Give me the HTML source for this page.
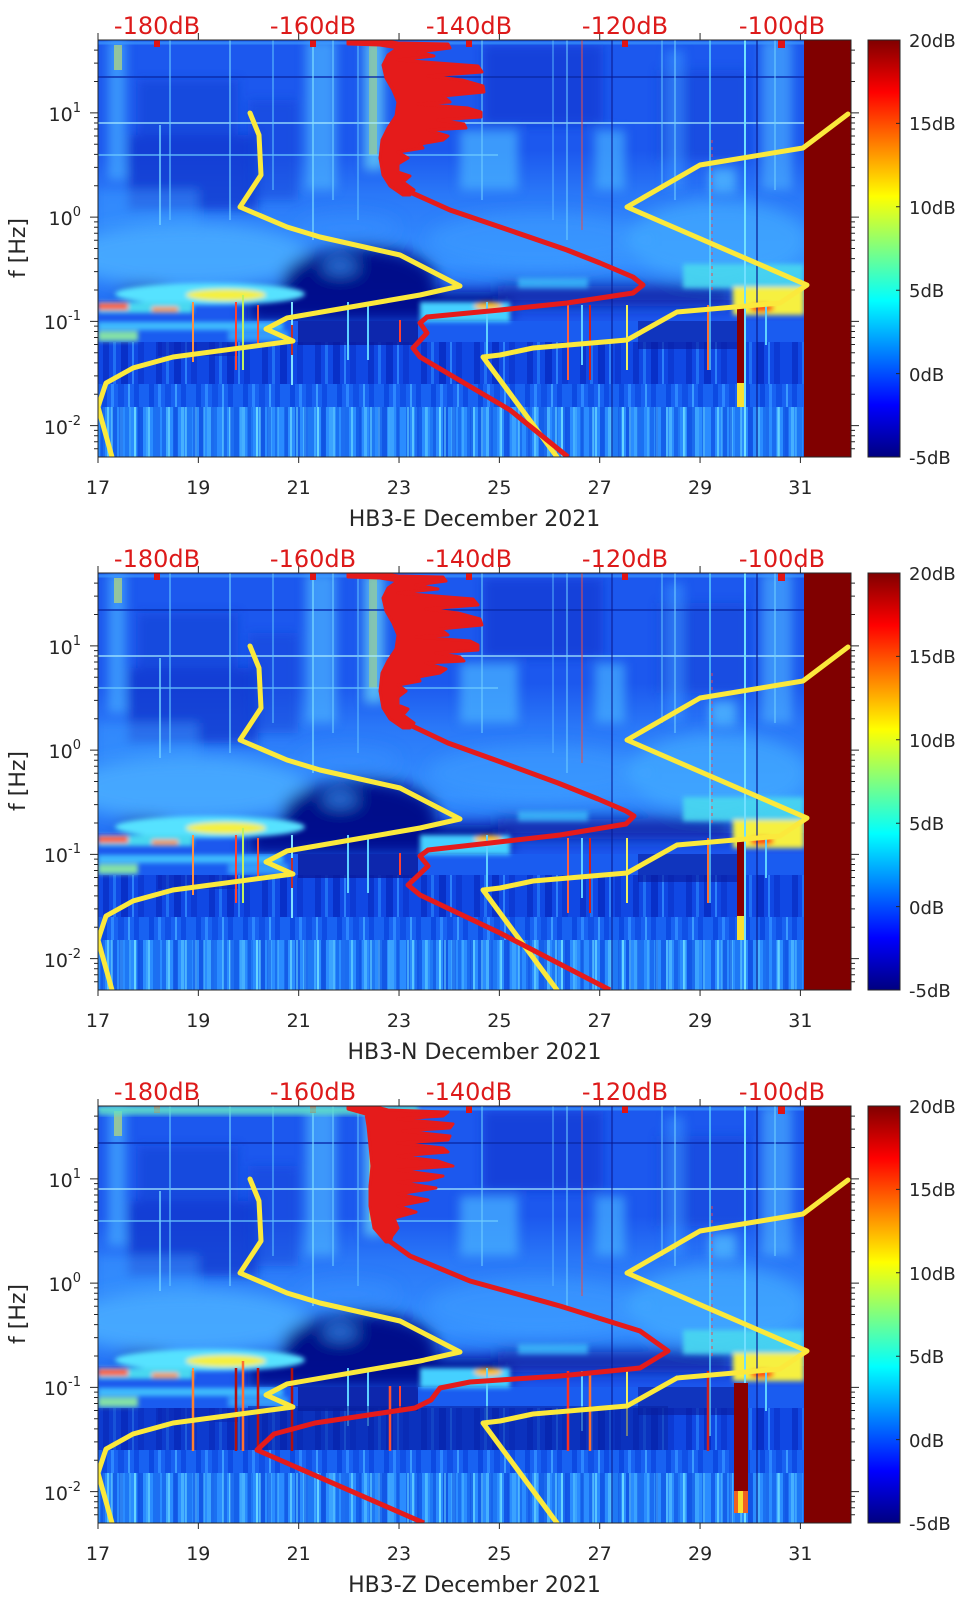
<!DOCTYPE html>
<html><head><meta charset="utf-8"><style>
html,body{margin:0;padding:0;background:#fff;}
svg{display:block;}
text{font-family:"DejaVu Sans","Liberation Sans",sans-serif;}
</style></head><body>
<svg width="962" height="1599" viewBox="0 0 962 1599" xmlns="http://www.w3.org/2000/svg" xmlns:xlink="http://www.w3.org/1999/xlink">
<defs>
<filter id="b3" x="-20%" y="-20%" width="140%" height="140%"><feGaussianBlur stdDeviation="2.5"/></filter>
<filter id="b5" x="-20%" y="-20%" width="140%" height="140%"><feGaussianBlur stdDeviation="5"/></filter>
<filter id="b8" x="-20%" y="-20%" width="140%" height="140%"><feGaussianBlur stdDeviation="8"/></filter>
<clipPath id="clip"><rect width="753" height="417"/></clipPath>
<linearGradient id="jet" x1="0" y1="0" x2="0" y2="1">
 <stop offset="0" stop-color="#800000"/>
 <stop offset="0.125" stop-color="#ff0000"/>
 <stop offset="0.375" stop-color="#ffff00"/>
 <stop offset="0.625" stop-color="#00ffff"/>
 <stop offset="0.875" stop-color="#0000ff"/>
 <stop offset="1" stop-color="#000080"/>
</linearGradient>
<linearGradient id="haze" gradientUnits="userSpaceOnUse" x1="0" y1="110" x2="0" y2="260">
 <stop offset="0" stop-color="#1c58ee"/>
 <stop offset="0.3" stop-color="#2a78f8"/>
 <stop offset="0.75" stop-color="#3590ff"/>
 <stop offset="1" stop-color="#2470f4"/>
</linearGradient>
<pattern id="pA" width="61" height="60" patternUnits="userSpaceOnUse">
 <rect width="61" height="60" fill="#2a8cff"/>
 <rect x="3" width="4" height="60" fill="#1a6cf0"/>
 <rect x="9" width="2" height="60" fill="#58c4ff"/>
 <rect x="14" width="5" height="60" fill="#1460ea"/>
 <rect x="22" width="3" height="60" fill="#46b0ff"/>
 <rect x="27" width="6" height="60" fill="#1e78f4"/>
 <rect x="36" width="2" height="60" fill="#66d4ff"/>
 <rect x="40" width="5" height="60" fill="#1258e6"/>
 <rect x="48" width="4" height="60" fill="#3aa2ff"/>
 <rect x="55" width="3" height="60" fill="#1a70f2"/>
</pattern>
<pattern id="pA2" width="37" height="60" patternUnits="userSpaceOnUse">
 <rect x="2" width="3" height="60" fill="#0e50e0" opacity=".55"/>
 <rect x="13" width="2" height="60" fill="#70e0ff" opacity=".5"/>
 <rect x="21" width="4" height="60" fill="#1050e4" opacity=".5"/>
 <rect x="31" width="2" height="60" fill="#50c0ff" opacity=".5"/>
</pattern>
<pattern id="pB" width="47" height="30" patternUnits="userSpaceOnUse">
 <rect width="47" height="30" fill="#1862f2"/>
 <rect x="4" width="5" height="30" fill="#0c4ae2"/>
 <rect x="13" width="3" height="30" fill="#2c86ff"/>
 <rect x="20" width="6" height="30" fill="#1050e6"/>
 <rect x="30" width="2" height="30" fill="#3a9aff"/>
 <rect x="36" width="5" height="30" fill="#0e4ce4"/>
</pattern>
<pattern id="pC" width="53" height="50" patternUnits="userSpaceOnUse">
 <rect width="53" height="50" fill="#1048e4"/>
 <rect x="5" width="6" height="50" fill="#0a34cc"/>
 <rect x="15" width="3" height="50" fill="#2070f4"/>
 <rect x="23" width="7" height="50" fill="#0830c8"/>
 <rect x="34" width="2" height="50" fill="#2c80fa"/>
 <rect x="40" width="6" height="50" fill="#0c3ad4"/>
</pattern>

<g id="spec">
 <rect width="706" height="417" fill="#1c58ee"/>
 <rect y="110" width="706" height="150" fill="url(#haze)"/>
 <g filter="url(#b5)">
  <rect x="30" y="95" width="130" height="75" fill="#1234cc" opacity=".75"/>
  <rect x="40" y="40" width="100" height="55" fill="#1640d4" opacity=".6"/>
  <rect x="385" y="5" width="120" height="80" fill="#1236d0" opacity=".65"/>
  <rect x="560" y="30" width="90" height="90" fill="#1640d6" opacity=".5"/>
  <rect x="150" y="60" width="50" height="100" fill="#1640d8" opacity=".5"/>
  <rect x="10" y="0" width="18" height="140" fill="#44a8ff" opacity=".75"/>
  <rect x="208" y="0" width="30" height="150" fill="#4cb4ff" opacity=".7"/>
  <rect x="266" y="0" width="20" height="130" fill="#60c8f8" opacity=".8"/>
  <rect x="362" y="90" width="58" height="60" fill="#46b0ff" opacity=".75"/>
  <rect x="497" y="90" width="30" height="60" fill="#46b0ff" opacity=".7"/>
  <rect x="568" y="10" width="18" height="140" fill="#3c98ff" opacity=".55"/>
  <rect x="664" y="0" width="30" height="150" fill="#4cb0ff" opacity=".65"/>
  <rect x="612" y="128" width="26" height="25" fill="#50b8ff" opacity=".8"/>
  <rect x="0" y="150" width="100" height="40" fill="#3a98ff" opacity=".5"/>
 </g>
 <rect x="271" y="5" width="8" height="110" fill="#c0e060" opacity=".45"/>
 <rect x="16" y="5" width="8" height="25" fill="#d0e860" opacity=".6"/>
 <g filter="url(#b8)">
  <ellipse cx="90" cy="215" rx="120" ry="32" fill="#4aaeff" opacity=".8"/>
  <ellipse cx="440" cy="200" rx="110" ry="28" fill="#3c9cff" opacity=".6"/>
  <ellipse cx="620" cy="200" rx="90" ry="40" fill="#44acff" opacity=".7"/>
  <ellipse cx="250" cy="188" rx="50" ry="14" fill="#3a92ff" opacity=".5"/>
  <ellipse cx="262" cy="242" rx="78" ry="36" fill="#000c8a"/>
  <rect x="150" y="252" width="260" height="30" fill="#00108e"/>
  <rect x="400" y="246" width="235" height="20" fill="#0a1c9e" opacity=".9"/>
  <ellipse cx="46" cy="252" rx="26" ry="6" fill="#0a1ca0"/>
  <ellipse cx="242" cy="226" rx="18" ry="8" fill="#3aa0ff" opacity=".7"/>
 </g>
 <rect y="281" width="706" height="21" fill="#1a5cf0"/>
 <rect y="302" width="706" height="42" fill="url(#pC)"/>
 <rect y="344" width="706" height="23" fill="url(#pB)"/>
 <rect y="367" width="706" height="50" fill="url(#pA)"/>
 <rect y="367" width="706" height="50" fill="url(#pA2)"/>
 <rect x="200" y="281" width="120" height="24" fill="#0a1a9c" opacity=".8"/>
 <rect x="540" y="281" width="100" height="28" fill="#0a1a9c" opacity=".6"/>
 <rect x="60" y="302" width="80" height="14" fill="#0a24b4" opacity=".6"/>
 <g filter="url(#b3)">
  <ellipse cx="112" cy="254" rx="95" ry="11" fill="#56e2ff"/>
  <ellipse cx="128" cy="255" rx="40" ry="6" fill="#f4f040"/>
  <rect x="0" y="262" width="95" height="11" fill="#4ad8f0"/>
  <rect x="0" y="263" width="30" height="7" fill="#ff5a20"/>
  <rect x="54" y="267" width="26" height="5" fill="#ff9020"/>
  <rect x="0" y="282" width="185" height="8" fill="#44c8ff" opacity=".9"/>
  <rect x="0" y="291" width="40" height="10" fill="#90f0a0" opacity=".9"/>
  <rect x="130" y="291" width="60" height="10" fill="#40b8ff" opacity=".7"/>
  <rect x="322" y="262" width="90" height="20" fill="#44d0ff"/>
  <ellipse cx="390" cy="266" rx="14" ry="4" fill="#ffc020"/>
  <rect x="585" y="224" width="121" height="24" fill="#48d8f0" opacity=".9"/>
  <rect x="635" y="247" width="71" height="28" fill="#f6f040"/>
  <ellipse cx="664" cy="268" rx="12" ry="4" fill="#ff3a10"/>
  <rect x="420" y="238" width="70" height="10" fill="#40c8ff" opacity=".7"/>
 </g>
 <g stroke-width="1.5" fill="none">
  <line x1="0" y1="83" x2="706" y2="83" stroke="#a8ecff" opacity=".85"/>
  <line x1="0" y1="115" x2="400" y2="115" stroke="#70d0ff" opacity=".8"/>
  <line x1="0" y1="37" x2="706" y2="37" stroke="#0a2aa8" opacity=".7" stroke-width="2"/>
  <line x1="0" y1="3" x2="706" y2="3" stroke="#40a0ff" opacity=".6" stroke-width="3"/>
  <line x1="62" y1="85" x2="62" y2="185" stroke="#70d0ff"/>
  <line x1="72" y1="0" x2="72" y2="180" stroke="#60c0ff" opacity=".8"/>
  <line x1="132" y1="0" x2="132" y2="180" stroke="#70d0ff" opacity=".8"/>
  <line x1="175" y1="0" x2="175" y2="150" stroke="#60c0ff" opacity=".7"/>
  <line x1="215" y1="0" x2="215" y2="200" stroke="#80e0ff" opacity=".8"/>
  <line x1="235" y1="0" x2="235" y2="160" stroke="#70d0ff" opacity=".7"/>
  <line x1="260" y1="0" x2="260" y2="180" stroke="#60c0ff" opacity=".7"/>
  <line x1="384" y1="0" x2="384" y2="160" stroke="#70d0ff" opacity=".7"/>
  <line x1="455" y1="0" x2="455" y2="180" stroke="#60c0ff" opacity=".6"/>
  <line x1="469" y1="0" x2="469" y2="200" stroke="#70d0ff" opacity=".7"/>
  <line x1="484" y1="0" x2="484" y2="190" stroke="#e05050" opacity=".7"/>
  <line x1="514" y1="0" x2="514" y2="417" stroke="#0a1a90" opacity=".7"/>
  <line x1="564" y1="0" x2="564" y2="150" stroke="#60c0ff" opacity=".7"/>
  <line x1="577" y1="0" x2="577" y2="160" stroke="#70d0ff" opacity=".7"/>
  <line x1="612" y1="0" x2="612" y2="330" stroke="#60d8ff" opacity=".9"/>
  <line x1="614" y1="100" x2="614" y2="250" stroke="#ff4040" opacity=".6" stroke-dasharray="3 4"/>
  <line x1="647" y1="0" x2="647" y2="417" stroke="#70e0ff" stroke-width="2"/>
  <line x1="659" y1="0" x2="659" y2="417" stroke="#0a1a90" opacity=".8"/>
  <line x1="677" y1="0" x2="677" y2="150" stroke="#70d0ff" opacity=".7"/>
 </g>
 <g stroke-width="2" fill="none">
  <line x1="95" y1="262" x2="95" y2="322" stroke="#ff9040"/>
  <line x1="138" y1="262" x2="138" y2="330" stroke="#ff4030"/>
  <line x1="145" y1="255" x2="145" y2="330" stroke="#c0f060"/>
  <line x1="160" y1="265" x2="160" y2="305" stroke="#ff5030"/>
  <line x1="194" y1="262" x2="194" y2="345" stroke="#80e0ff"/>
  <line x1="194" y1="285" x2="194" y2="315" stroke="#c03030"/>
  <line x1="250" y1="262" x2="250" y2="320" stroke="#60d0ff"/>
  <line x1="270" y1="262" x2="270" y2="320" stroke="#60d0ff"/>
  <line x1="302" y1="280" x2="302" y2="302" stroke="#ff4030"/>
  <line x1="389" y1="262" x2="389" y2="320" stroke="#60d0ff"/>
  <line x1="470" y1="265" x2="470" y2="340" stroke="#ff6040"/>
  <line x1="484" y1="265" x2="484" y2="325" stroke="#60d0ff"/>
  <line x1="492" y1="265" x2="492" y2="340" stroke="#d02020"/>
  <line x1="529" y1="265" x2="529" y2="330" stroke="#f0f060"/>
  <line x1="610" y1="265" x2="610" y2="330" stroke="#ff7030"/>
  <line x1="668" y1="265" x2="668" y2="305" stroke="#60d0ff"/>
 </g>
 <rect x="706" y="0" width="47" height="417" fill="#800000"/>
 <g fill="#e01414">
  <rect x="56" y="0" width="6" height="7"/>
  <rect x="212" y="0" width="6" height="7"/>
  <rect x="368" y="0" width="6" height="7"/>
  <rect x="524" y="0" width="6" height="7"/>
  <rect x="680" y="0" width="7" height="8"/>
 </g>
</g>

<path id="yel" d="M152,73 L161,95 L163,135 L142,167 L189,187 L222,197 L302,215 L362,246 L322,255 L189,278 L168,289 L195,301 L75,317 L35,328 L8,343 L0,367 L14,417 M459,417 L385,317 L402,315 L435,308 L529,300 L579,272 L682,263 L709,245 L529,167 L602,125 L705,108 L750,74" fill="none" stroke="#fbe93c" stroke-width="5" stroke-linejoin="round" stroke-linecap="round"/>

<g id="ticks" fill="none" stroke="#262626" stroke-width="1">
 <rect x="0" y="0" width="753" height="417"/>
 <path d="M0,72.87h-8M0,177.12h-8M0,281.37h-8M0,385.62h-8M753,72.87h8M753,177.12h8M753,281.37h8M753,385.62h8"/>
 <path d="M0,10.1h-4M0,23.13h-4M0,41.49h-4M0,77.64h-4M0,82.97h-4M0,89.02h-4M0,96h-4M0,104.25h-4M0,114.35h-4M0,127.38h-4M0,145.74h-4M0,181.89h-4M0,187.22h-4M0,193.27h-4M0,200.25h-4M0,208.5h-4M0,218.6h-4M0,231.63h-4M0,249.99h-4M0,286.14h-4M0,291.47h-4M0,297.52h-4M0,304.5h-4M0,312.75h-4M0,322.85h-4M0,335.88h-4M0,354.24h-4M0,390.39h-4M0,395.72h-4M0,401.77h-4M0,408.75h-4"/>
 <path d="M753,10.1h4M753,23.13h4M753,41.49h4M753,77.64h4M753,82.97h4M753,89.02h4M753,96h4M753,104.25h4M753,114.35h4M753,127.38h4M753,145.74h4M753,181.89h4M753,187.22h4M753,193.27h4M753,200.25h4M753,208.5h4M753,218.6h4M753,231.63h4M753,249.99h4M753,286.14h4M753,291.47h4M753,297.52h4M753,304.5h4M753,312.75h4M753,322.85h4M753,335.88h4M753,354.24h4M753,390.39h4M753,395.72h4M753,401.77h4M753,408.75h4"/>
 <path d="M0,417v6M100.34,417v6M200.69,417v6M301.03,417v6M401.37,417v6M501.71,417v6M602.06,417v6M702.4,417v6"/>
 <path d="M0,0v-7M100.34,0v-7M200.69,0v-7M301.03,0v-7M401.37,0v-7M501.71,0v-7M602.06,0v-7M702.4,0v-7"/>
 <rect x="770" y="0" width="32" height="417" fill="url(#jet)"/>
 <path d="M802,83.4h-4M802,166.8h-4M802,250.2h-4M802,333.6h-4"/>
</g>
</defs>

<rect width="962" height="1599" fill="#fff"/>

<!-- PANEL 1 -->
<g transform="translate(98,40)">
 <g clip-path="url(#clip)">
  <use xlink:href="#spec"/>
  <rect x="639" y="267" width="7" height="76" fill="#8a0000"/>
  <rect x="639" y="343" width="7" height="24" fill="#f8e030"/>
  <use xlink:href="#yel"/>
  <g fill="#e51b1b" stroke="#e51b1b" stroke-width="3" stroke-linejoin="round">
   <polygon points="250,0 282,0 300,3 350,4 352,8 320,12 336,16 300,20 380,26 384,32 330,36 364,40 385,46 386,52 345,56 352,62 320,64 370,68 383,72 383,77 340,80 366,84 368,88 330,90 350,96 345,100 322,104 325,108 300,112 310,118 300,124 300,132 312,136 305,142 316,150 312,155 305,155 292,146 285,135 282,118 284,100 290,88 298,76 300,62 295,50 288,38 285,25 290,15 300,8 282,5 250,4"/>
  </g>
  <polyline points="312,152 352,170 402,187 469,210 502,223 535,237 545,245 535,253 469,263 402,270 329,277 322,283 329,293 315,308 322,317 412,370 470,417" fill="none" stroke="#e51b1b" stroke-width="5" stroke-linejoin="round"/>
 </g>
 <use xlink:href="#ticks"/>
</g>

<!-- PANEL 2 -->
<g transform="translate(98,573)">
 <g clip-path="url(#clip)">
  <use xlink:href="#spec"/>
  <rect x="639" y="267" width="7" height="76" fill="#8a0000"/>
  <rect x="639" y="343" width="7" height="24" fill="#f8e030"/>
  <use xlink:href="#yel"/>
  <g fill="#e51b1b" stroke="#e51b1b" stroke-width="3" stroke-linejoin="round">
   <polygon points="250,0 282,0 300,3 345,4 348,8 318,12 340,16 300,20 375,26 380,32 328,36 360,40 382,46 384,52 342,56 350,62 318,64 372,68 380,72 380,77 338,80 362,84 366,88 328,90 348,96 342,100 320,104 322,108 300,112 308,118 300,124 300,132 310,136 305,142 316,150 312,155 305,155 292,146 285,135 282,118 284,100 290,88 298,76 300,62 295,50 288,38 285,25 290,15 300,8 282,5 250,4"/>
  </g>
  <polyline points="312,152 350,170 400,188 460,210 500,226 528,238 536,243 528,251 462,262 392,270 330,277 322,283 330,293 310,312 322,322 402,360 512,417" fill="none" stroke="#e51b1b" stroke-width="5" stroke-linejoin="round"/>
 </g>
 <use xlink:href="#ticks"/>
</g>

<!-- PANEL 3 -->
<g transform="translate(98,1106)">
 <g clip-path="url(#clip)">
  <use xlink:href="#spec"/>
  <rect x="0" y="0" width="320" height="9" fill="#60e0c8" opacity=".85" filter="url(#b3)"/>
  <rect x="150" y="300" width="420" height="44" fill="#08209e" opacity=".55"/>
  <rect x="0" y="302" width="150" height="42" fill="#0a28b0" opacity=".4"/>
  <g stroke-width="2.5" fill="none">
   <line x1="95" y1="265" x2="95" y2="345" stroke="#ff8030"/>
   <line x1="138" y1="262" x2="138" y2="345" stroke="#b01010"/>
   <line x1="145" y1="255" x2="145" y2="345" stroke="#ff7030"/>
   <line x1="160" y1="262" x2="160" y2="345" stroke="#c01010"/>
   <line x1="194" y1="262" x2="194" y2="345" stroke="#b01010"/>
   <line x1="292" y1="280" x2="292" y2="345" stroke="#ff5030"/>
   <line x1="470" y1="265" x2="470" y2="345" stroke="#ff3020"/>
   <line x1="492" y1="265" x2="492" y2="345" stroke="#ff7030"/>
   <line x1="610" y1="265" x2="610" y2="345" stroke="#d02020"/>
  </g>
  <rect x="636" y="277" width="14" height="108" fill="#8a0000"/>
  <rect x="636" y="385" width="14" height="22" fill="#f06020"/>
  <rect x="640" y="385" width="5" height="22" fill="#f8e030"/>
  <use xlink:href="#yel"/>
  <g fill="#e51b1b" stroke="#e51b1b" stroke-width="3" stroke-linejoin="round">
   <polygon points="250,0 275,0 290,4 350,6 345,10 300,13 355,18 352,22 305,25 352,30 350,34 300,37 345,42 350,46 300,50 340,55 355,60 300,64 345,70 330,74 300,76 338,82 300,88 330,94 300,100 318,106 296,112 300,122 294,130 292,136 288,136 276,122 272,100 272,80 274,60 272,40 270,20 268,8 250,3"/>
  </g>
  <polyline points="290,134 312,150 372,175 462,200 542,225 570,245 542,262 462,270 372,276 342,282 333,294 317,302 217,317 176,328 159,344 326,417" fill="none" stroke="#e51b1b" stroke-width="5" stroke-linejoin="round"/>
 </g>
 <use xlink:href="#ticks"/>
</g>

<!-- TEXT PANEL 1 (T=40,B=457) -->
<g font-size="24" fill="#dd1a1a" text-anchor="middle">
 <text x="157" y="34">-180dB</text><text x="313" y="34">-160dB</text><text x="469" y="34">-140dB</text><text x="625" y="34">-120dB</text><text x="782" y="34">-100dB</text>
 <text x="157" y="567">-180dB</text><text x="313" y="567">-160dB</text><text x="469" y="567">-140dB</text><text x="625" y="567">-120dB</text><text x="782" y="567">-100dB</text>
 <text x="157" y="1100">-180dB</text><text x="313" y="1100">-160dB</text><text x="469" y="1100">-140dB</text><text x="625" y="1100">-120dB</text><text x="782" y="1100">-100dB</text>
</g>
<g font-size="19" fill="#262626" text-anchor="middle">
 <text x="98" y="494">17</text><text x="198.3" y="494">19</text><text x="298.7" y="494">21</text><text x="399" y="494">23</text><text x="499.4" y="494">25</text><text x="599.7" y="494">27</text><text x="700.1" y="494">29</text><text x="800.4" y="494">31</text>
 <text x="98" y="1027">17</text><text x="198.3" y="1027">19</text><text x="298.7" y="1027">21</text><text x="399" y="1027">23</text><text x="499.4" y="1027">25</text><text x="599.7" y="1027">27</text><text x="700.1" y="1027">29</text><text x="800.4" y="1027">31</text>
 <text x="98" y="1560">17</text><text x="198.3" y="1560">19</text><text x="298.7" y="1560">21</text><text x="399" y="1560">23</text><text x="499.4" y="1560">25</text><text x="599.7" y="1560">27</text><text x="700.1" y="1560">29</text><text x="800.4" y="1560">31</text>
</g>
<g font-size="19" fill="#262626" text-anchor="end">
 <text x="81" y="121">10<tspan dy="-9" font-size="13">1</tspan></text>
 <text x="81" y="225">10<tspan dy="-9" font-size="13">0</tspan></text>
 <text x="81" y="329">10<tspan dy="-9" font-size="13">-1</tspan></text>
 <text x="81" y="434">10<tspan dy="-9" font-size="13">-2</tspan></text>
 <text x="81" y="654">10<tspan dy="-9" font-size="13">1</tspan></text>
 <text x="81" y="758">10<tspan dy="-9" font-size="13">0</tspan></text>
 <text x="81" y="862">10<tspan dy="-9" font-size="13">-1</tspan></text>
 <text x="81" y="967">10<tspan dy="-9" font-size="13">-2</tspan></text>
 <text x="81" y="1187">10<tspan dy="-9" font-size="13">1</tspan></text>
 <text x="81" y="1291">10<tspan dy="-9" font-size="13">0</tspan></text>
 <text x="81" y="1395">10<tspan dy="-9" font-size="13">-1</tspan></text>
 <text x="81" y="1500">10<tspan dy="-9" font-size="13">-2</tspan></text>
</g>
<g font-size="18" fill="#262626">
 <text x="909" y="47">20dB</text><text x="909" y="130">15dB</text><text x="909" y="214">10dB</text><text x="909" y="297">5dB</text><text x="909" y="381">0dB</text><text x="909" y="464">-5dB</text>
 <text x="909" y="580">20dB</text><text x="909" y="663">15dB</text><text x="909" y="747">10dB</text><text x="909" y="830">5dB</text><text x="909" y="914">0dB</text><text x="909" y="997">-5dB</text>
 <text x="909" y="1113">20dB</text><text x="909" y="1196">15dB</text><text x="909" y="1280">10dB</text><text x="909" y="1363">5dB</text><text x="909" y="1447">0dB</text><text x="909" y="1530">-5dB</text>
</g>
<g font-size="22" fill="#262626" text-anchor="middle">
 <text x="474.5" y="526">HB3-E December 2021</text>
 <text x="474.5" y="1059">HB3-N December 2021</text>
 <text x="474.5" y="1592">HB3-Z December 2021</text>
 <text transform="translate(25,248) rotate(-90)">f [Hz]</text>
 <text transform="translate(25,781) rotate(-90)">f [Hz]</text>
 <text transform="translate(25,1314) rotate(-90)">f [Hz]</text>
</g>
</svg>
</body></html>
